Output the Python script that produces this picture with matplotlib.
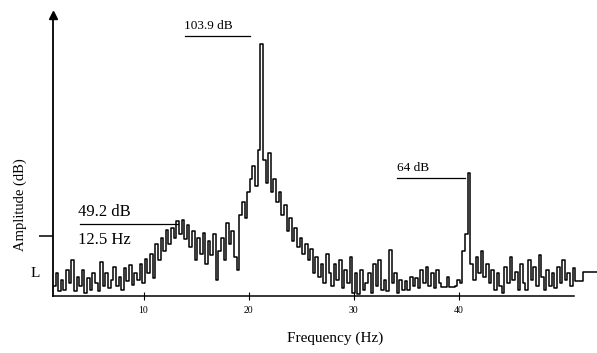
import numpy as np
import matplotlib.pyplot as plt

plt.rcParams['font.family'] = ['Liberation Serif', 'DejaVu Serif']

# spectrum, 0.25 Hz bins starting at 1.5 Hz
f_start = 1.5
df = 0.25
amp_db = [
    29, 33, 27.5, 31,     28, 34, 30, 37,       27.5, 32, 29, 34,
    27, 31.5, 28, 33,     30, 27.5, 36.5, 29,   33, 28.5, 31, 35,
    29, 32, 28, 34.5,     30.5, 35.5, 29.5, 33, 31, 36, 30, 37.5,
    33, 39, 31.5, 42,     37, 44, 40, 46.5,     42, 47, 44, 49.2,
    45, 49.5, 43.5, 48,   41, 46, 37, 44,       39, 45.5, 36, 43,
    38.5, 45, 31, 40,     44, 37, 48.5, 42,     46, 38, 34, 51,
    55, 50, 58, 62,       66, 60, 71, 103.9,    68, 61, 70, 58,
    62, 55, 58, 51,       54, 46, 50, 43,       47, 41, 44, 39,
    42, 37, 40.5, 33,     38, 32, 36, 30,       39, 33, 29, 36,
    31, 37, 28.5, 34,     30, 38, 27, 33,       26.5, 34, 28, 30,
    33, 27, 36, 29,       37, 28, 31, 27.5,     40.2, 30, 33, 27,
    31, 28, 30.5, 28,     32, 29, 31.5, 28.5,   34, 30, 35, 29,
    33, 28.5, 34, 30,     28.7, 28.7, 32, 28.7, 28.7, 29, 31, 30,
    40, 45, 64, 36,       31, 38, 33, 40,       32, 36, 30, 34,
    28, 33, 29, 27,       35, 30, 38, 31,       33.5, 28, 36, 30,
    28, 37, 31, 35,       29, 38.5, 32, 28,     34, 29, 33, 28.5,
    35, 30, 37, 31,       33, 29, 34.5, 30.5,   30.5, 30.5, 33.4, 33.4,
    33.4, 33.4, 33.4, 33.4,
]
freq = f_start + df * np.arange(len(amp_db))

xticks = [10, 20, 30, 40]

fig = plt.figure(figsize=(5.97, 3.53), dpi=100)
ax = fig.add_axes([53/597, 57/353, 544/597, 281/353])

ax.plot(freq, amp_db, color='black', lw=1.1, drawstyle='steps-mid')

ax.set_xlim(1.38, 53.19)
ax.set_ylim(26, 112.7)
ax.spines['top'].set_visible(False)
ax.spines['right'].set_visible(False)
ax.spines['bottom'].set_bounds(1.38, 51)
ax.spines['left'].set_linewidth(1.3)
ax.spines['bottom'].set_linewidth(1.1)
# arrow head on the amplitude axis
ax.plot([1.38], [112.7], marker='^', color='black', ms=6, clip_on=False)

ax.set_xticks(xticks)
ax.set_xticklabels([str(t) for t in xticks])
ax.tick_params(axis='x', direction='inout', length=6, labelsize=7, pad=4)
ax.set_yticks([44.5])
ax.set_yticklabels([''])
ax.tick_params(axis='y', direction='out', length=10, width=1.1)
ax.text(-0.032, 0.08, 'L', transform=ax.transAxes, fontsize=11, ha='center', va='center')

# peak annotations
ax.text(3.8, 49.4, '49.2 dB', fontsize=12, ha='left', va='bottom')
ax.plot([3.95, 13.3], [48.2, 48.2], color='black', lw=0.9)
ax.text(3.8, 43.2, '12.5 Hz', fontsize=12, ha='left', va='center')
ax.text(13.9, 107.5, '103.9 dB', fontsize=9.5, ha='left', va='bottom')
ax.plot([13.95, 20.14], [106.2, 106.2], color='black', lw=0.9)
ax.text(34.1, 63.5, '64 dB', fontsize=9.5, ha='left', va='bottom')
ax.plot([34.1, 40.6], [62.4, 62.4], color='black', lw=0.9)

fig.text(335/597, 1 - 338/353, 'Frequency (Hz)', fontsize=11, ha='center', va='center')
fig.text(20/597, 1 - 205/353, 'Amplitude (dB)', fontsize=10.5, rotation=90, ha='center', va='center')

fig.savefig('out.png', dpi=100)
